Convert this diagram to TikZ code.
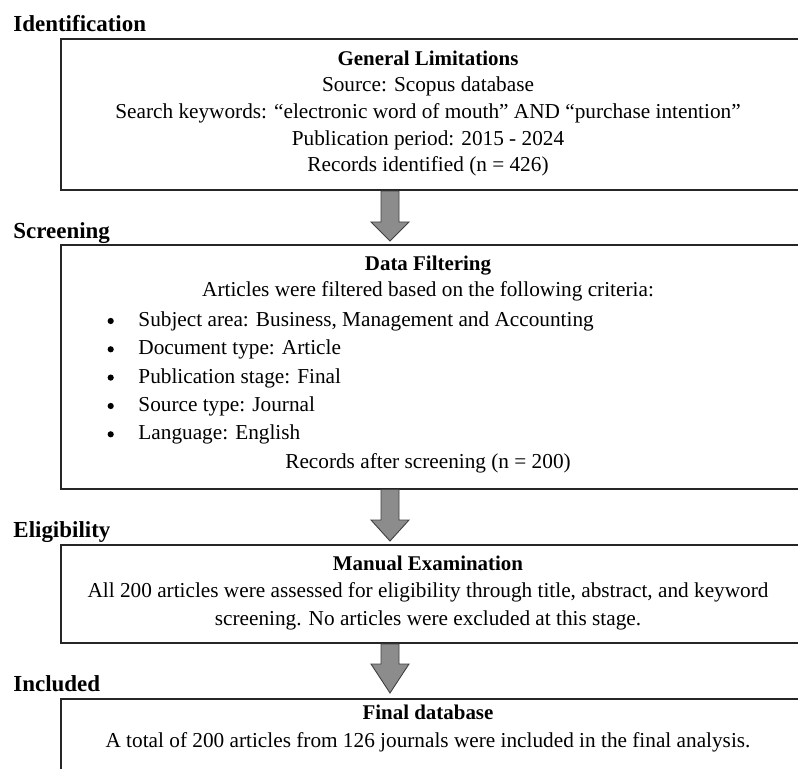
\documentclass[tikz,border=0pt]{standalone}
\usepackage{fontspec}
\setmainfont{Liberation Serif}
\usetikzlibrary{calc}
\newcommand{\fs}{\fontsize{9.45}{11}\selectfont}
\newcommand{\fb}{\fontsize{9.3}{11}\selectfont\bfseries}
\newcommand{\fl}{\fontsize{10.2}{12}\selectfont\bfseries}
\begin{document}
\begin{tikzpicture}[x=0.4444pt,y=-0.4444pt,
  box/.style={draw=black!85, line width=0.9pt, minimum width=742*0.4444pt, inner sep=0pt, anchor=north west},
  stage/.style={font=\fl, anchor=base west, inner sep=0pt},
  ttl/.style={font=\fb, anchor=base, inner sep=0pt},
  txt/.style={font=\fs, anchor=base, inner sep=0pt},
  lft/.style={font=\fs, anchor=base west, inner sep=0pt},
  dot/.style={circle, fill=black, inner sep=0pt, minimum size=6.2*0.4444pt},
  fatarrow/.style={fill=black!45, draw=black!75, line width=0.4pt}]
\clip (0,0) rectangle (798,769);
\coordinate (ax) at (390,0);
% boxes
\node[box, minimum height=151*0.4444pt] (b1) at (60,38) {};
\node[box, minimum height=243.5*0.4444pt] (b2) at (60,244) {};
\node[box, minimum height=98*0.4444pt] (b3) at (60,544) {};
\node[box, minimum height=122*0.4444pt] (b4) at (60,698) {};
% stage labels
\node[stage] (s1) at (13,32) {Identification};
\node[stage] (s2) at (13,239) {Screening};
\node[stage] (s3) at (13,537) {Eligibility};
\node[stage] (s4) at (13,691) {Included};
% box 1
\node[ttl] (t1) at (428,66) {General Limitations};
\node[txt] (t1a) at (428,92) {Source: Scopus database};
\node[txt] (t1b) at (428,119) {Search keywords: “electronic word of mouth” AND “purchase intention”};
\node[txt] (t1c) at (428,146) {Publication period: 2015 - 2024};
\node[txt] (t1d) at (428,172) {Records identified (n = 426)};
% box 2
\node[ttl] (t2) at (428,271) {Data Filtering};
\node[txt] (t2a) at (428,297) {Articles were filtered based on the following criteria:};
\foreach \yy/\tt [count=\i] in {326.7/{Subject area: Business, Management and Accounting},
                                355/{Document type: Article},
                                383.3/{Publication stage: Final},
                                411.7/{Source type: Journal},
                                440/{Language: English}}{
  \node[dot] (bul\i) at (110.7,\yy-5.7) {};
  \node[lft] (it\i) at (138,\yy) {\tt};
}
\node[txt] (t2b) at (428,469) {Records after screening (n = 200)};
% box 3
\node[ttl] (t3) at (428,570) {Manual Examination};
\node[txt] (t3a) at (428,597) {All 200 articles were assessed for eligibility through title, abstract, and keyword};
\node[txt] (t3b) at (428,625) {screening. No articles were excluded at this stage.};
% box 4
\node[ttl] (t4) at (428,719) {Final database};
\node[txt] (t4a) at (428,747) {A total of 200 articles from 126 journals were included in the final analysis.};
% arrows
\newcommand{\bigarrow}[4]{%
  \draw[fatarrow] ($(ax |- #1.south)+(-9,0)$) -- ($(ax |- #1.south)+(9,0)$)
    -- ($(ax |- #2.north)+(9,-#3-#4)$) -- ($(ax |- #2.north)+(19,-#3-#4)$)
    -- ($(ax |- #2.north)+(0,-#4)$) -- ($(ax |- #2.north)+(-19,-#3-#4)$)
    -- ($(ax |- #2.north)+(-9,-#3-#4)$) -- cycle;}
\bigarrow{b1}{b2}{19}{3}
\bigarrow{b2}{b3}{21}{3}
\bigarrow{b3}{b4}{29}{5}
\end{tikzpicture}
\end{document}
